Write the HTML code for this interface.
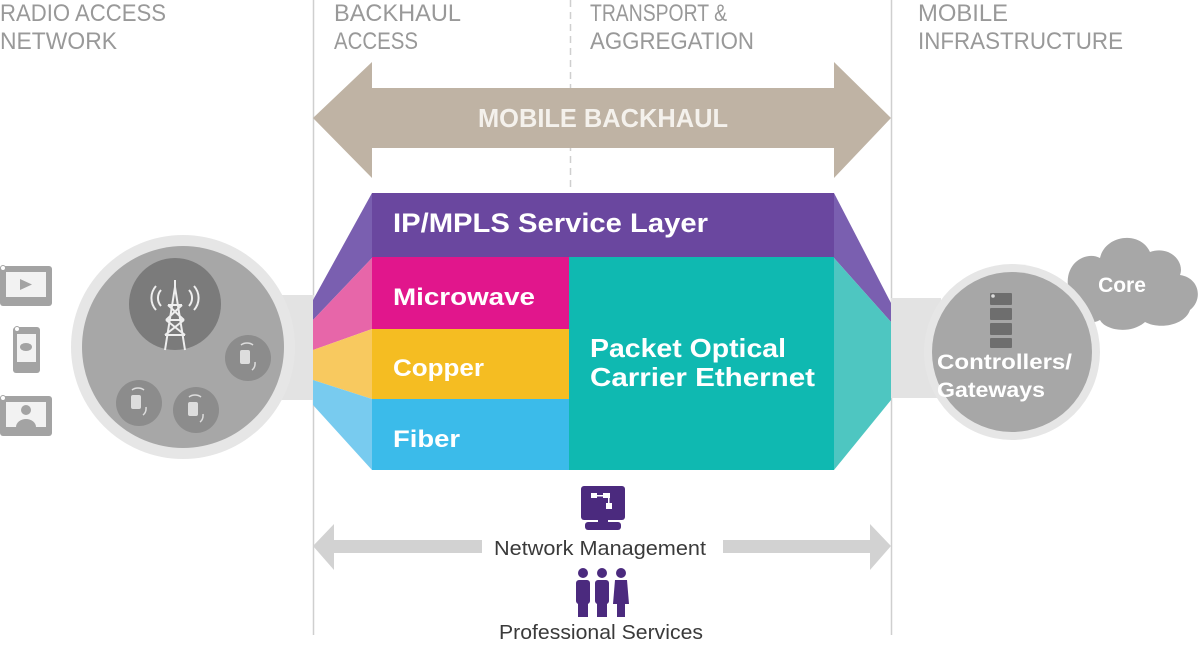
<!DOCTYPE html>
<html><head><meta charset="utf-8"><style>
html,body{margin:0;padding:0;background:#fff;}
svg{display:block;}
text{font-family:"Liberation Sans",sans-serif;}
</style></head><body>
<svg width="1200" height="667" viewBox="0 0 1200 667" xmlns="http://www.w3.org/2000/svg">
<g fill="#999" font-size="24">
<text x="0" y="21" textLength="166" lengthAdjust="spacingAndGlyphs">RADIO ACCESS</text>
<text x="0" y="49" textLength="117" lengthAdjust="spacingAndGlyphs">NETWORK</text>
<text x="334" y="21" textLength="127" lengthAdjust="spacingAndGlyphs">BACKHAUL</text>
<text x="334" y="49" textLength="84" lengthAdjust="spacingAndGlyphs">ACCESS</text>
<text x="590" y="21" textLength="137" lengthAdjust="spacingAndGlyphs">TRANSPORT &amp;</text>
<text x="590" y="49" textLength="164" lengthAdjust="spacingAndGlyphs">AGGREGATION</text>
<text x="918" y="21" textLength="90" lengthAdjust="spacingAndGlyphs">MOBILE</text>
<text x="918" y="49" textLength="205" lengthAdjust="spacingAndGlyphs">INFRASTRUCTURE</text>
</g>
<line x1="313.5" y1="0" x2="313.5" y2="635" stroke="#cfcfcf" stroke-width="1.5"/>
<line x1="891.5" y1="0" x2="891.5" y2="635" stroke="#cfcfcf" stroke-width="1.5"/>
<line x1="570.5" y1="0" x2="570.5" y2="192" stroke="#cfcfcf" stroke-width="1.5" stroke-dasharray="7,5"/>
<polygon points="313,118 372,62 372,88 834,88 834,62 891,118 834,178 834,148 372,148 372,178" fill="#bfb3a4"/>
<text x="603" y="127" text-anchor="middle" fill="#f4f1ec" font-size="26" font-weight="bold" textLength="250" lengthAdjust="spacingAndGlyphs">MOBILE BACKHAUL</text>
<rect x="270" y="295" width="44" height="105" fill="#e3e3e3"/>
<rect x="891" y="298" width="50" height="100" fill="#e3e3e3"/>
<polygon points="372,193 313,300 313,320 372,258" fill="#7a5fb0"/>
<polygon points="372,258 313,320 313,350 372,329" fill="#e766a9"/>
<polygon points="372,329 313,350 313,380 372,399" fill="#f8c95f"/>
<polygon points="372,399 313,380 313,405 372,470" fill="#78cbef"/>
<polygon points="834,193 891,303 891,322 834,258" fill="#7a5fb0"/>
<polygon points="834,258 891,322 891,400 834,470" fill="#4ec6c1"/>
<rect x="372" y="193" width="462" height="65" fill="#6a479f"/>
<rect x="372" y="257" width="198" height="72" fill="#e1168c"/>
<rect x="372" y="329" width="198" height="70" fill="#f5bd22"/>
<rect x="372" y="399" width="198" height="71" fill="#3bbbea"/>
<rect x="569" y="257" width="265" height="213" fill="#0fb9b1"/>
<g fill="#fff" font-weight="bold">
<text x="393" y="232" font-size="27" textLength="315" lengthAdjust="spacingAndGlyphs">IP/MPLS Service Layer</text>
<text x="393" y="305" font-size="24" textLength="142" lengthAdjust="spacingAndGlyphs">Microwave</text>
<text x="393" y="376" font-size="24" textLength="91" lengthAdjust="spacingAndGlyphs">Copper</text>
<text x="393" y="447" font-size="24" textLength="67" lengthAdjust="spacingAndGlyphs">Fiber</text>
<text x="590" y="357" font-size="26" textLength="196" lengthAdjust="spacingAndGlyphs">Packet Optical</text>
<text x="590" y="386" font-size="26" textLength="225" lengthAdjust="spacingAndGlyphs">Carrier Ethernet</text>
</g>
<circle cx="183" cy="347" r="112" fill="#e6e6e6"/>
<circle cx="183" cy="347" r="101" fill="#a7a7a7"/>
<circle cx="175" cy="304" r="46" fill="#7b7b7b"/>
<g stroke="#eee" stroke-width="2" fill="none">
<path d="M175 287 L165 350 M175 287 L185 350 M168 305 L182 305 M166 320 L184 320 M165 335 L185 335 M168 305 L184 320 M182 305 L166 320 M166 320 L185 335 M184 320 L165 335 M175 280 L175 288"/>
<path d="M161 290 a12 12 0 0 0 0 16 M189 290 a12 12 0 0 1 0 16 M156 286 a18 18 0 0 0 0 24 M194 286 a18 18 0 0 1 0 24"/>
</g>
<g fill="#8c8c8c"><circle cx="248" cy="358" r="23"/><circle cx="139" cy="403" r="23"/><circle cx="196" cy="410" r="23"/></g>
<g fill="#ddd">
<rect x="240" y="350" width="10" height="14" rx="2"/><rect x="131" y="395" width="10" height="14" rx="2"/><rect x="188" y="402" width="10" height="14" rx="2"/>
</g>
<g stroke="#ddd" stroke-width="1.5" fill="none">
<path d="M241 345 a8 6 0 0 1 12 0 M132 390 a8 6 0 0 1 12 0 M189 397 a8 6 0 0 1 12 0"/>
<path d="M255 362 a6 8 0 0 1 -3 8 M146 407 a6 8 0 0 1 -3 8 M203 414 a6 8 0 0 1 -3 8"/>
</g>
<g fill="#a3a3a3">
<rect x="0" y="266" width="52" height="40" rx="3"/>
<rect x="13" y="327" width="27" height="46" rx="3"/>
<rect x="0" y="396" width="52" height="40" rx="3"/>
</g>
<g fill="#f2f2f2">
<rect x="6" y="272" width="40" height="25"/><rect x="17" y="334" width="19" height="28"/><rect x="6" y="402" width="40" height="25"/>
</g>
<g fill="#fff" stroke="#a3a3a3" stroke-width="1"><circle cx="3" cy="268" r="2.5"/><circle cx="17" cy="329" r="2.5"/><circle cx="3" cy="398" r="2.5"/></g>
<polygon points="20,279 32,284.5 20,290" fill="#a3a3a3"/>
<ellipse cx="26" cy="347" rx="6" ry="4" fill="#a3a3a3"/>
<circle cx="26" cy="410" r="5" fill="#a3a3a3"/><path d="M16 427 a10 8 0 0 1 20 0z" fill="#a3a3a3"/>
<path d="M1070 295 C1060 265 1085 250 1100 258 C1105 235 1140 230 1150 252 C1170 245 1185 262 1180 275 C1200 278 1203 300 1190 310 C1185 325 1160 330 1145 322 C1130 335 1105 330 1100 320 C1085 328 1065 318 1070 295 Z" fill="#a7a7a7"/>
<text x="1122" y="292" text-anchor="middle" fill="#fff" font-size="21" font-weight="bold">Core</text>
<circle cx="1012" cy="352" r="88" fill="#e6e6e6"/>
<circle cx="1012" cy="352" r="80" fill="#a7a7a7"/>
<g fill="#6e6e6e"><rect x="990" y="293" width="22" height="12" rx="1"/><rect x="990" y="308" width="22" height="12" rx="1"/><rect x="990" y="323" width="22" height="12" rx="1"/><rect x="990" y="338" width="22" height="10" rx="1"/></g>
<circle cx="993" cy="296" r="1.8" fill="#ddd"/>
<g fill="#fff" font-weight="bold" font-size="21">
<text x="937" y="369" textLength="135" lengthAdjust="spacingAndGlyphs">Controllers/</text>
<text x="937" y="397" textLength="108" lengthAdjust="spacingAndGlyphs">Gateways</text>
</g>
<polygon points="313,546 334,524 334,540 482,540 482,553 334,553 334,570" fill="#d2d2d2"/>
<polygon points="891,546 870,524 870,540 723,540 723,553 870,553 870,570" fill="#d2d2d2"/>
<text x="600" y="555" text-anchor="middle" fill="#3a3a3a" font-size="20" textLength="212" lengthAdjust="spacingAndGlyphs">Network Management</text>
<text x="601" y="639" text-anchor="middle" fill="#3a3a3a" font-size="20" textLength="204" lengthAdjust="spacingAndGlyphs">Professional Services</text>
<g fill="#4b2a7e">
<rect x="581" y="486" width="44" height="34" rx="3"/>
<rect x="598" y="518" width="10" height="6"/>
<rect x="585" y="522" width="36" height="8" rx="3"/>
</g>
<g fill="#fff"><rect x="591" y="493" width="6" height="5"/><rect x="603" y="493" width="7" height="5"/><rect x="606" y="503" width="6" height="6"/><rect x="597" y="495" width="6" height="1.5"/><rect x="608" y="498" width="1.5" height="5"/></g>
<g fill="#4b2a7e">
<circle cx="583" cy="573" r="5"/><rect x="576" y="580" width="14" height="24" rx="3"/><rect x="578" y="600" width="10" height="17"/>
<circle cx="602" cy="573" r="5"/><rect x="595" y="580" width="14" height="24" rx="3"/><rect x="597" y="600" width="10" height="17"/>
<circle cx="621" cy="573" r="5"/><path d="M615 580 h12 l2 24 h-16z"/><rect x="617" y="600" width="8" height="17"/>
</g>
</svg>
</body></html>
